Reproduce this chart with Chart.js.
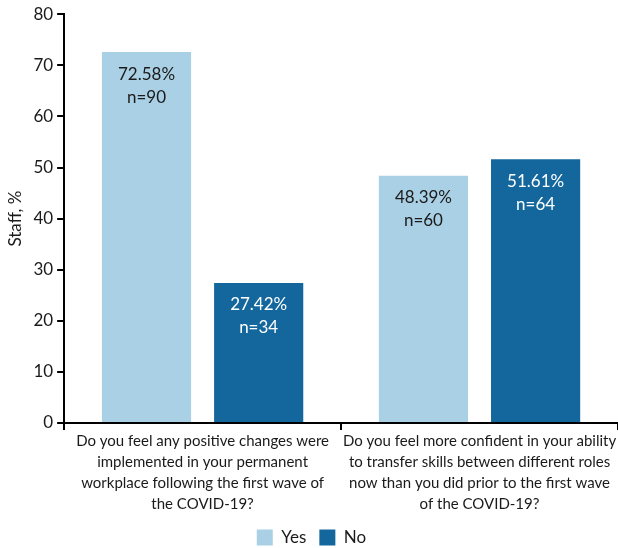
<!DOCTYPE html>
<html>
<head>
<meta charset="utf-8">
<script src="https://cdn.jsdelivr.net/npm/chart.js@4.4.1/dist/chart.umd.min.js"></script>
<style>
  html, body { margin: 0; padding: 0; background: #fff; }
  #wrap { width: 618px; height: 548px; }
</style>
</head>
<body>
<div id="wrap"><canvas id="staffChart" width="618" height="548"></canvas></div>
<script>
// Survey questions (x axis), wrapped as in the report
const questions = [
  ['Do you feel any positive changes were', 'implemented in your permanent', 'workplace following the first wave of', 'the COVID-19?'],
  ['Do you feel more confident in your ability', 'to transfer skills between different roles', 'now than you did prior to the first wave', 'of the COVID-19?']
];

const yesPct = [72.58, 48.39];
const noPct = [27.42, 51.61];
const yesN = [90, 60];
const noN = [34, 64];

const yTicks = [0, 10, 20, 30, 40, 50, 60, 70, 80];

const COLOR_YES = '#a9d0e4';
const COLOR_NO = '#14679d';
const FONT = 'Lato, "Open Sans", sans-serif';

// Draws "xx.xx%" and "n=.." inside the top of each bar
const barLabels = {
  id: 'barLabels',
  afterDatasetsDraw(chart) {
    const ctx = chart.ctx;
    ctx.save();
    ctx.font = '17px ' + FONT;
    ctx.textAlign = 'center';
    ctx.textBaseline = 'middle';
    chart.data.datasets.forEach((ds, i) => {
      const meta = chart.getDatasetMeta(i);
      meta.data.forEach((bar, j) => {
        ctx.fillStyle = ds.labelColor;
        ctx.fillText(ds.data[j].toFixed(2) + '%', bar.x, bar.y + 22);
        ctx.fillText('n=' + ds.counts[j], bar.x, bar.y + 45);
      });
    });
    ctx.restore();
  }
};

new Chart(document.getElementById('staffChart'), {
  type: 'bar',
  data: {
    labels: questions,
    datasets: [
      { label: 'Yes', data: yesPct, counts: yesN, backgroundColor: COLOR_YES, labelColor: '#1a1a1a' },
      { label: 'No', data: noPct, counts: noN, backgroundColor: COLOR_NO, labelColor: '#ffffff' }
    ]
  },
  options: {
    responsive: false,
    animation: false,
    layout: { padding: { top: 8, right: 0, left: 5, bottom: -8 } },
    datasets: {
      bar: { categoryPercentage: 0.81, barPercentage: 0.795 }
    },
    scales: {
      x: {
        grid: {
          offset: true,
          drawOnChartArea: false,
          color: '#000',
          lineWidth: 2,
          tickLength: 7
        },
        border: { color: '#000', width: 2 },
        ticks: {
          color: '#1a1a1a',
          font: { family: FONT, size: 15, lineHeight: '21px' },
          maxRotation: 0,
          autoSkip: false,
          padding: 1
        }
      },
      y: {
        min: 0,
        max: 80,
        afterBuildTicks(axis) {
          axis.ticks = yTicks.map(v => ({ value: v }));
        },
        grid: {
          drawOnChartArea: false,
          color: '#000',
          lineWidth: 2,
          tickLength: 7
        },
        border: { color: '#000', width: 2 },
        ticks: {
          color: '#1a1a1a',
          font: { family: FONT, size: 17 },
          padding: 4
        },
        title: {
          display: true,
          text: 'Staff, %',
          color: '#1a1a1a',
          font: { family: FONT, size: 17 },
          padding: { top: 0, bottom: 4 }
        }
      }
    },
    plugins: {
      legend: {
        position: 'bottom',
        labels: {
          color: '#1a1a1a',
          font: { family: FONT, size: 17 },
          boxWidth: 16,
          boxHeight: 16,
          padding: 13
        }
      },
      tooltip: { enabled: false }
    }
  },
  plugins: [barLabels]
});
</script>
</body>
</html>
